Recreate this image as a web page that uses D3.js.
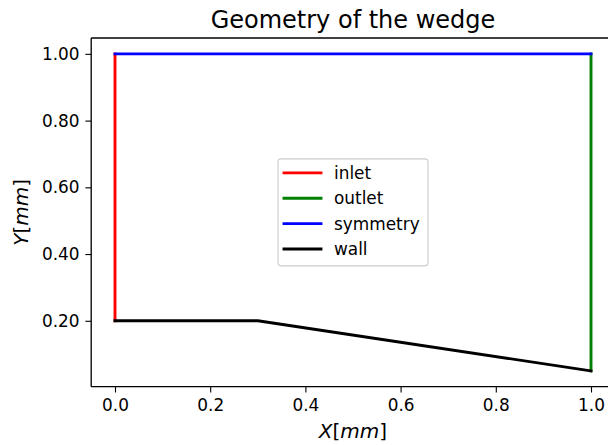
<!DOCTYPE html>
<html>
<head>
<meta charset="utf-8">
<script src="https://cdn.jsdelivr.net/npm/d3@7"></script>
<style>
  html, body { margin: 0; padding: 0; background: #fff; overflow: hidden; }
  svg { display: block; font-family: "DejaVu Sans", sans-serif; }
</style>
</head>
<body>
<script>
// Boundary segments of the wedge geometry (x, y in mm)
const inletX = [0.0, 0.0];
const inletY = [0.2, 1.0];
const outletX = [1.0, 1.0];
const outletY = [0.05, 1.0];
const symmetryX = [0.0, 1.0];
const symmetryY = [1.0, 1.0];
const wallX = [0.0, 0.3, 1.0];
const wallY = [0.2, 0.2, 0.05];

const seriesNames = ["inlet", "outlet", "symmetry", "wall"];
const seriesColors = ["#ff0000", "#008000", "#0000ff", "#000000"];

const xTicks = [0.0, 0.2, 0.4, 0.6, 0.8, 1.0];
const yTicks = [0.2, 0.4, 0.6, 0.8, 1.0];
const titleText = "Geometry of the wedge";

const W = 608, H = 445;
const plot = { left: 91.2, right: 614.8, top: 38.0, bottom: 386.7 };

const series = [
  { name: seriesNames[0], color: seriesColors[0], xs: inletX, ys: inletY },
  { name: seriesNames[1], color: seriesColors[1], xs: outletX, ys: outletY },
  { name: seriesNames[2], color: seriesColors[2], xs: symmetryX, ys: symmetryY },
  { name: seriesNames[3], color: seriesColors[3], xs: wallX, ys: wallY }
];

// Data limits with 5% margins on each side
const allX = series.flatMap(s => s.xs), allY = series.flatMap(s => s.ys);
const [x0, x1] = d3.extent(allX), [y0, y1] = d3.extent(allY);
const mx = (x1 - x0) * 0.05, my = (y1 - y0) * 0.05;

const x = d3.scaleLinear().domain([x0 - mx, x1 + mx]).range([plot.left, plot.right]);
const y = d3.scaleLinear().domain([y0 - my, y1 + my]).range([plot.bottom, plot.top]);

const svg = d3.select("body").append("svg").attr("width", W).attr("height", H);

// Boundary lines
const line = d3.line().x(d => x(d[0])).y(d => y(d[1]));
svg.append("g").selectAll("path").data(series).join("path")
  .attr("d", s => line(s.xs.map((v, i) => [v, s.ys[i]])))
  .attr("fill", "none")
  .attr("stroke", s => s.color)
  .attr("stroke-width", 2.9)
  .attr("stroke-linecap", "square")
  .attr("stroke-linejoin", "round");

// Axes
const tickLen = 5.8, tickPad = 5.8;
const xAxis = d3.axisBottom(x).tickValues(xTicks).tickFormat(d3.format(".1f"))
  .tickSizeInner(tickLen).tickSizeOuter(0).tickPadding(tickPad);
const yAxis = d3.axisLeft(y).tickValues(yTicks).tickFormat(d3.format(".2f"))
  .tickSizeInner(tickLen).tickSizeOuter(0).tickPadding(tickPad);

const gx = svg.append("g").attr("transform", `translate(0,${plot.bottom})`).call(xAxis);
const gy = svg.append("g").attr("transform", `translate(${plot.left},0)`).call(yAxis);
[gx, gy].forEach(g => {
  g.selectAll(".domain").remove();
  g.selectAll("line").attr("stroke", "#000").attr("stroke-width", 1.1);
  g.selectAll("text").attr("fill", "#000").attr("font-size", 16.9)
    .attr("font-family", "DejaVu Sans, sans-serif");
});
gx.selectAll("text").attr("dy", "0.73em");

// Spines (left, bottom, top); the right spine lies past the figure edge
const spines = svg.append("g").attr("stroke", "#000").attr("stroke-width", 1.33).attr("fill", "none");
spines.append("line").attr("x1", plot.left).attr("x2", plot.left).attr("y1", plot.top).attr("y2", plot.bottom);
spines.append("line").attr("x1", plot.left).attr("x2", plot.right).attr("y1", plot.bottom).attr("y2", plot.bottom);
spines.append("line").attr("x1", plot.left).attr("x2", plot.right).attr("y1", plot.top).attr("y2", plot.top);

// Title
const cx = (plot.left + plot.right) / 2;
svg.append("text").attr("x", cx).attr("y", 28).attr("text-anchor", "middle")
  .attr("font-size", 24).attr("fill", "#000").text(titleText);

// Axis labels with italic variables
function mathLabel(sel, v) {
  sel.append("tspan").attr("font-style", "italic").text(v);
  sel.append("tspan").text("[");
  sel.append("tspan").attr("font-style", "italic").text("mm");
  sel.append("tspan").text("]");
}
svg.append("text").attr("x", cx).attr("y", 438).attr("text-anchor", "middle")
  .attr("font-size", 20).attr("fill", "#000").call(mathLabel, "X");
svg.append("text").attr("transform", `translate(28,${(plot.top + plot.bottom) / 2}) rotate(-90)`)
  .attr("text-anchor", "middle").attr("font-size", 20).attr("fill", "#000").call(mathLabel, "Y");

// Legend, centred in the axes
const leg = { w: 150, h: 107 };
const lx = cx - leg.w / 2, ly = (plot.top + plot.bottom) / 2 - leg.h / 2;
const lg = svg.append("g").attr("transform", `translate(${lx},${ly})`);
lg.append("rect").attr("width", leg.w).attr("height", leg.h).attr("rx", 3)
  .attr("fill", "#fff").attr("fill-opacity", 0.8).attr("stroke", "#cccccc").attr("stroke-width", 1.1);
const rowY = i => 14 + i * 25.4;
const items = lg.selectAll("g.item").data(series).join("g").attr("class", "item")
  .attr("transform", (d, i) => `translate(0,${rowY(i)})`);
items.append("line").attr("x1", 6).attr("x2", 43).attr("y1", 0).attr("y2", 0)
  .attr("stroke", d => d.color).attr("stroke-width", 2.9).attr("stroke-linecap", "square");
items.append("text").attr("x", 56).attr("y", 0).attr("dy", "0.36em")
  .attr("font-size", 16.9).attr("fill", "#000").text(d => d.name);
</script>
</body>
</html>
